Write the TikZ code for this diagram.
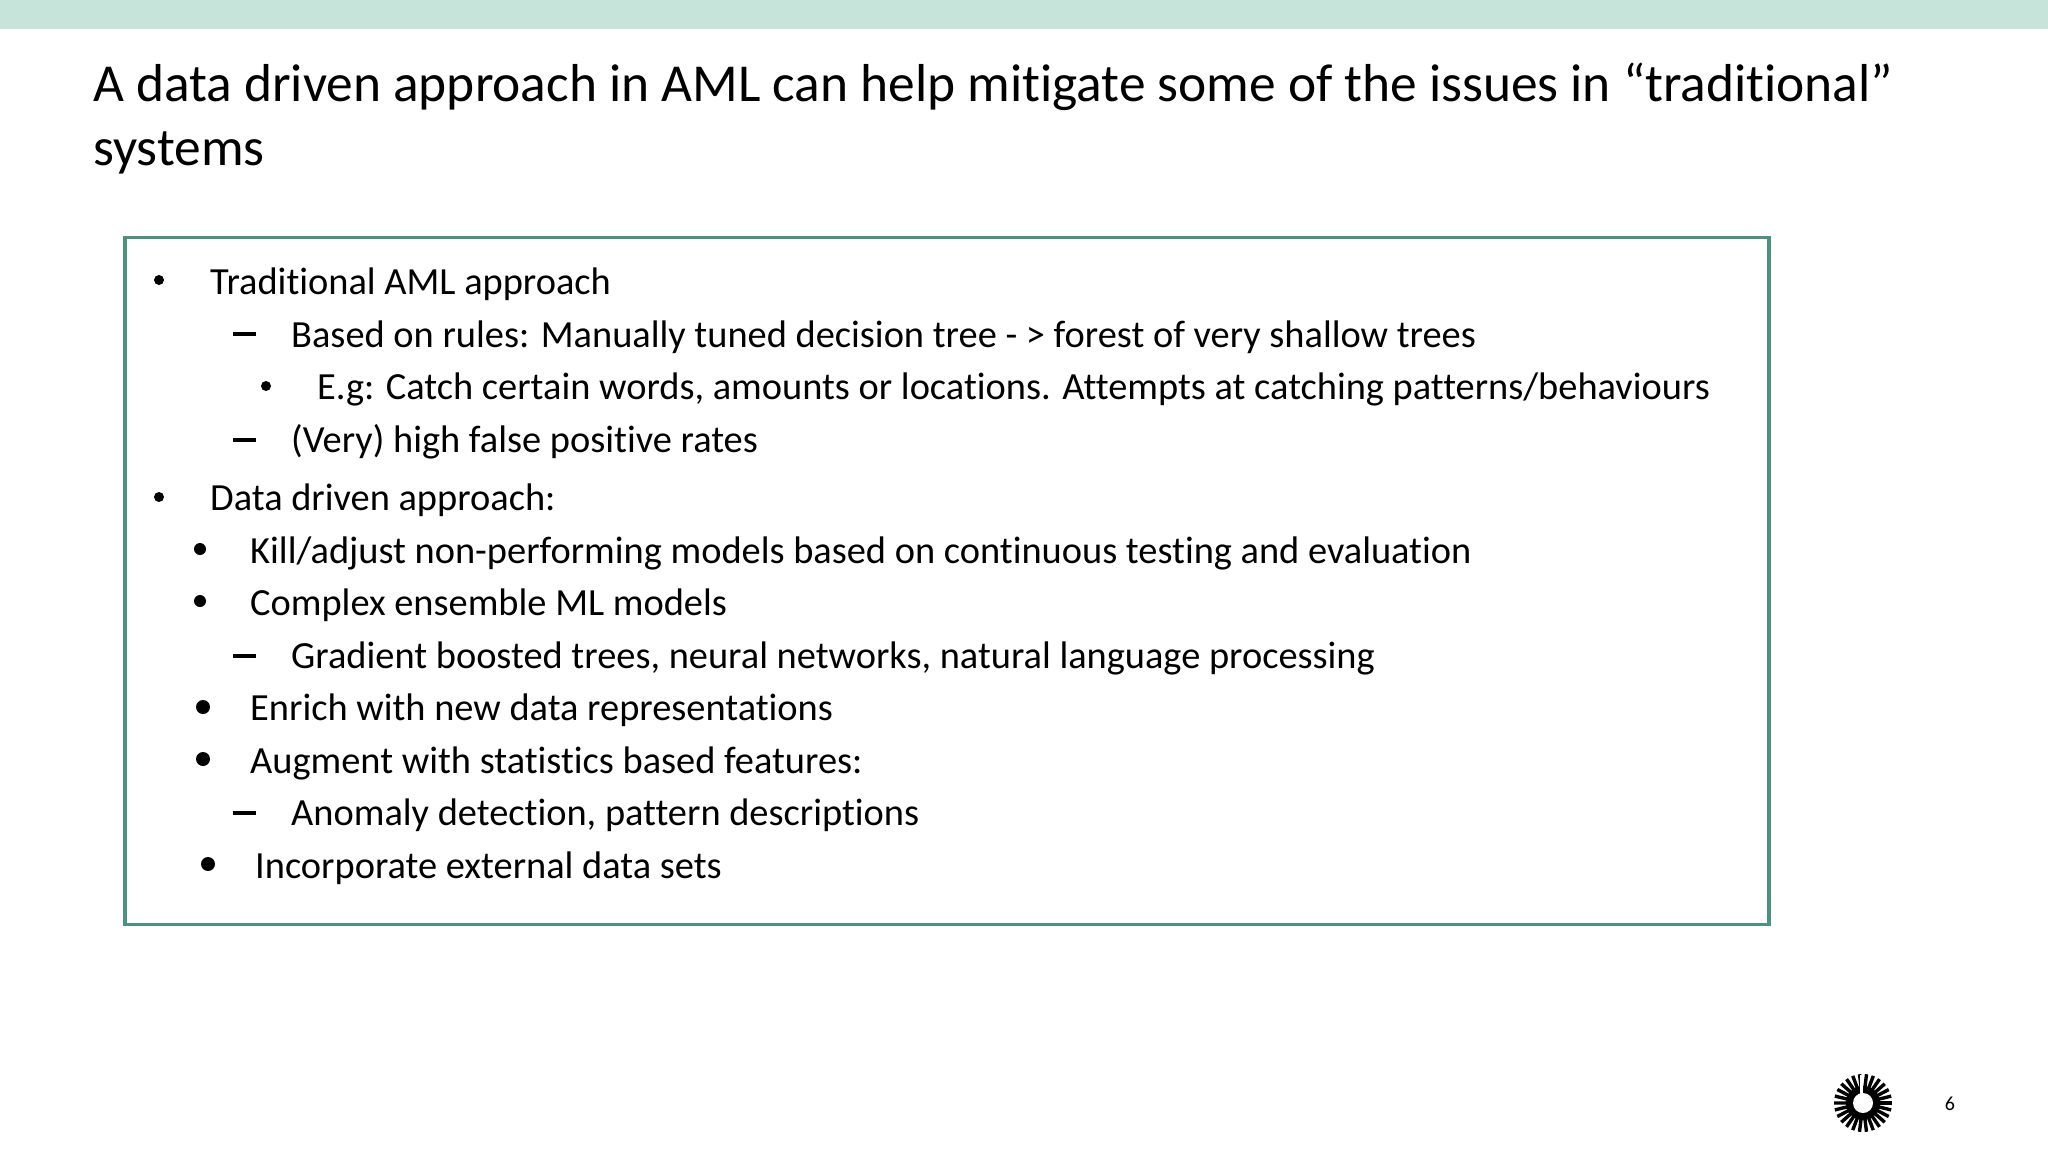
\documentclass[tikz,border=0pt]{standalone}
\usepackage{fontspec}
\setmainfont[Ligatures=NoCommon]{Carlito}
\definecolor{topband}{RGB}{199,228,218}
\definecolor{boxline}{RGB}{76,146,128}
\tikzset{
    bodytext/.style={anchor=base west,font=\fontsize{38.4}{46}\selectfont,inner sep=0pt},
    titletext/.style={anchor=base west,font=\fontsize{53.4}{64}\selectfont,inner sep=0pt},
    bulletmark/.style={circle,fill=black,inner sep=0pt,minimum size=#1},
    dashmark/.style={fill=black,inner sep=0pt,minimum width=23pt,minimum height=3.5pt}
}
\begin{document}
\begin{tikzpicture}[x=1pt,y=-1pt]
\useasboundingbox (0,0) rectangle (2048,1151);

% Top band
\fill[topband] (0,0) rectangle (2048,29);

% Title
\node[titletext] (title1) at (93,101) {A data driven approach in AML can help mitigate some of the issues in “traditional”};
\node[titletext] (title2) at (93,165) {systems};

% Frame
\draw[boxline,line width=3.5pt] (125,237.5) rectangle (1769,924.5);

% Text lines
\foreach \x/\y/\txt [count=\i] in {
    210/294/{Traditional AML approach},
    291/347/{Based on rules: Manually tuned decision tree - > forest of very shallow trees},
    317/399/{E.g: Catch certain words, amounts or locations. Attempts at catching patterns/behaviours},
    291/452/{(Very) high false positive rates},
    210/510/{Data driven approach:},
    250/563/{Kill/adjust non-performing models based on continuous testing and evaluation},
    250/615/{Complex ensemble ML models},
    291/668/{Gradient boosted trees, neural networks, natural language processing},
    250/720/{Enrich with new data representations},
    250/773/{Augment with statistics based features:},
    291/825/{Anomaly detection, pattern descriptions},
    255/878/{Incorporate external data sets}} {
    \node[bodytext] (line\i) at (\x,\y) {\txt};
}

% Bullets
\foreach \x/\y/\d in {159/280/10, 266/386/10, 159/497/10, 200/549/12, 200/601/12, 203/707/14, 203/759/14, 208/864/14} {
    \node[bulletmark=\d pt] at (\x,\y) {};
}

% Dashes
\foreach \y in {334, 440, 656, 813} {
    \node[dashmark] at (244,\y) {};
}

% Logo
\fill[black] (1863,1103) circle (17);
\foreach \a in {0,13.85,...,350} {
    \draw[black,line width=3.4pt] (1863,1103) ++(\a:15) -- ++(\a:14);
}
\fill[white] (1863,1103) circle (10);
\fill[white] (1860,1075) rectangle (1862.5,1094);

% Page number
\node[anchor=base,font=\fontsize{20}{24}\selectfont,inner sep=0pt] (pagenum) at (1950,1110) {6};

\end{tikzpicture}
\end{document}
